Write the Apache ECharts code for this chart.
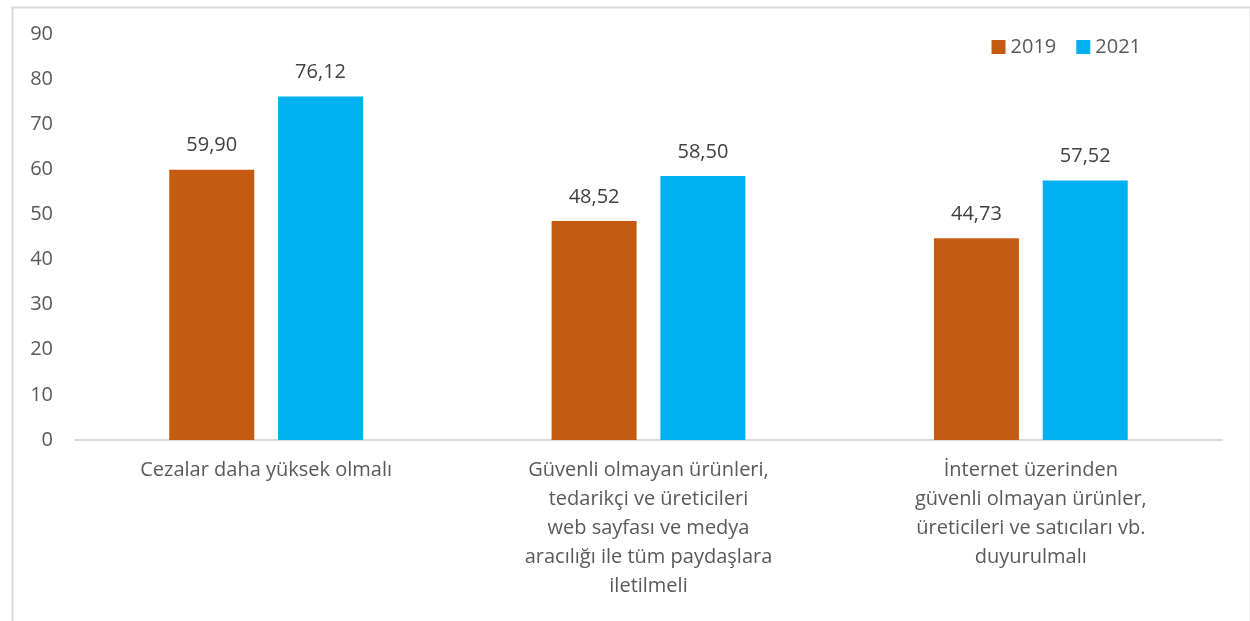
<!DOCTYPE html>
<html>
<head>
<meta charset="utf-8">
<script src="https://cdn.jsdelivr.net/npm/echarts@6/dist/echarts.min.js"></script>
<style>
  html,body{margin:0;padding:0;background:#fff;}
  #main{width:1250px;height:621px;}
</style>
</head>
<body>
<div id="main"></div>
<script>
var categories=[
  'Cezalar daha yüksek olmalı',
  'Güvenli olmayan ürünleri,\ntedarikçi ve üreticileri\nweb sayfası ve medya\naracılığı ile tüm paydaşlara\niletilmeli',
  'İnternet üzerinden\ngüvenli olmayan ürünler,\nüreticileri ve satıcıları vb.\nduyurulmalı'
];
var values2019=[59.90,48.52,44.73];
var values2021=[76.12,58.50,57.52];
var seriesNames=['2019','2021'];

var myChart=echarts.init(document.getElementById('main'));
var font='"Open Sans", "Noto Sans", sans-serif';

function fmt(p){
  return p.value.toFixed(2).replace('.',',');
}

var option={
  textStyle:{fontFamily:font},
  animation:false,
  graphic:[{
    type:'rect',
    left:10,top:5,
    shape:{width:1238,height:700},
    style:{fill:'none',stroke:'#d9d9d9',lineWidth:2},
    silent:true
  }],
  legend:{
    right:104,top:32,
    itemWidth:14,itemHeight:14,itemGap:20,
    icon:'rect',
    textStyle:{fontSize:20,color:'#595959',fontFamily:font},
    data:seriesNames
  },
  grid:{left:75,right:28,top:34,bottom:181},
  xAxis:{
    type:'category',
    data:categories,
    axisLine:{lineStyle:{color:'#d9d9d9',width:2}},
    axisTick:{show:false},
    axisLabel:{fontSize:20,color:'#595959',lineHeight:29,margin:16,interval:0,fontFamily:font}
  },
  yAxis:{
    type:'value',
    min:0,max:90,interval:10,
    axisLine:{show:false},
    axisTick:{show:false},
    splitLine:{show:false},
    axisLabel:{fontSize:20,color:'#595959',margin:22,fontFamily:font}
  },
  series:[{
    name:seriesNames[0],
    type:'bar',
    data:values2019,
    barWidth:85,
    barGap:'28%',
    itemStyle:{color:'#c55a11'},
    label:{show:true,position:'top',distance:14,fontSize:20,color:'#404040',formatter:fmt,fontFamily:font}
  },{
    name:seriesNames[1],
    type:'bar',
    data:values2021,
    barWidth:85,
    itemStyle:{color:'#00b0f0'},
    label:{show:true,position:'top',distance:14,fontSize:20,color:'#404040',formatter:fmt,fontFamily:font}
  }]
};
myChart.setOption(option);
</script>
</body>
</html>
